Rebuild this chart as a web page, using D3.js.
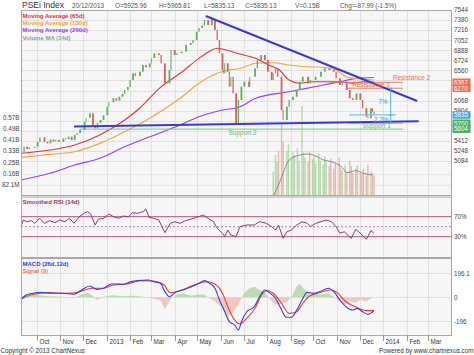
<!DOCTYPE html>
<html><head><meta charset="utf-8">
<script src="https://cdn.jsdelivr.net/npm/d3@7"></script>
<style>
html,body{margin:0;padding:0;background:#fff;}
svg{display:block;font-family:"Liberation Sans",Arial,sans-serif;}
</style></head><body>
<svg id="c" width="474" height="355"></svg>
<script>
// ---------- DATA ----------
const priceDates = ["2012-09-11","2012-09-14","2012-09-18","2012-09-21","2012-09-28","2012-10-02","2012-10-05","2012-10-11","2012-10-15","2012-10-19","2012-10-23","2012-10-26","2012-10-30","2012-11-05","2012-11-08","2012-11-12","2012-11-16","2012-11-20","2012-11-23","2012-11-27","2012-12-03","2012-12-05","2012-12-10","2012-12-14","2012-12-17","2012-12-20","2012-12-24","2012-12-28","2013-01-02","2013-01-04","2013-01-10","2013-01-14","2013-01-18","2013-01-22","2013-01-25","2013-01-29","2013-02-01","2013-02-05","2013-02-08","2013-02-14","2013-02-18","2013-02-22","2013-02-27","2013-03-01","2013-03-05","2013-03-11","2013-03-14","2013-03-19","2013-03-25","2013-03-27","2013-04-01","2013-04-04","2013-04-10","2013-04-16","2013-04-22","2013-04-25","2013-04-30","2013-05-03","2013-05-07","2013-05-10","2013-05-15","2013-05-20","2013-05-24","2013-05-27","2013-05-30","2013-06-03","2013-06-04","2013-06-06","2013-06-10","2013-06-12","2013-06-14","2013-06-17","2013-06-21","2013-06-24","2013-06-28","2013-07-02","2013-07-08","2013-07-09","2013-07-16","2013-07-19","2013-07-24","2013-07-29","2013-08-02","2013-08-07","2013-08-09","2013-08-12","2013-08-15","2013-08-20","2013-08-22","2013-08-27","2013-08-30","2013-09-04","2013-09-09","2013-09-13","2013-09-17","2013-09-24","2013-09-27","2013-10-04","2013-10-11","2013-10-16","2013-10-22","2013-10-28","2013-10-31","2013-11-05","2013-11-08","2013-11-14","2013-11-18","2013-11-22","2013-11-27","2013-12-02","2013-12-05","2013-12-10","2013-12-12","2013-12-16","2013-12-18","2013-12-20"];
const priceCloses = [5236,5317,5280,5307,5317,5395,5470,5399,5372,5438,5405,5426,5398,5454,5440,5480,5426,5508,5540,5589,5724,5790,5861,5671,5617,5705,5752,5830,5969,6040,6106,6068,6132,6180,6241,6290,6404,6513,6470,6539,6648,6610,6676,6760,6839,6811,6676,6350,6567,6892,6811,6840,6865,6974,7006,7055,7191,7251,7290,7381,7300,7397,7218,7055,6839,6567,6513,6676,6539,6295,6457,6187,5698,6078,6295,6376,6295,6457,6594,6729,6811,6729,6539,6404,6513,6594,6457,5915,5752,5969,6078,6132,6241,6376,6457,6350,6404,6457,6539,6594,6567,6539,6431,6322,6376,6241,6106,6078,6187,6078,5943,5806,5780,5943,5887,5835.13];

const ma65Dates = ["2012-09-10","2012-10-18","2012-11-20","2012-12-23","2013-01-25","2013-02-14","2013-03-12","2013-04-08","2013-05-03","2013-05-16","2013-05-27","2013-06-08","2013-06-26","2013-07-17","2013-08-03","2013-08-17","2013-08-30","2013-09-13","2013-10-01","2013-10-23","2013-11-05","2013-11-22","2013-12-05","2013-12-20"];
const ma65Values = [5210,5263,5345,5508,5752,5948,6273,6513,6757,6865,6920,6892,6827,6757,6648,6567,6404,6350,6376,6376,6376,6350,6376,6367];
const ma130Dates = ["2012-09-10","2012-10-18","2012-11-20","2012-12-23","2013-01-25","2013-02-27","2013-04-08","2013-05-03","2013-05-27","2013-06-12","2013-06-26","2013-07-17","2013-08-09","2013-08-30","2013-09-22","2013-10-14","2013-10-31","2013-11-13","2013-12-02","2013-12-20"];
const ma130Values = [5144,5193,5236,5372,5562,5780,6106,6350,6513,6567,6591,6676,6686,6648,6620,6611,6567,6457,6420,6404];
const ma260Dates = ["2012-09-10","2012-10-18","2012-11-20","2012-12-23","2013-01-25","2013-02-27","2013-04-08","2013-05-03","2013-05-30","2013-06-26","2013-07-17","2013-08-30","2013-09-22","2013-10-14","2013-11-05","2013-11-27","2013-12-20"];
const ma260Values = [4775,4884,5019,5128,5317,5480,5671,5806,5904,5969,6106,6213,6268,6322,6376,6431,6444];

const volDates = ["2013-08-09","2013-08-12","2013-08-14","2013-08-16","2013-08-20","2013-08-22","2013-08-27","2013-08-29","2013-09-02","2013-09-04","2013-09-06","2013-09-10","2013-09-12","2013-09-16","2013-09-18","2013-09-20","2013-09-24","2013-09-26","2013-09-30","2013-10-02","2013-10-04","2013-10-08","2013-10-10","2013-10-14","2013-10-16","2013-10-18","2013-10-22","2013-10-24","2013-10-28","2013-10-30","2013-11-04","2013-11-06","2013-11-08","2013-11-12","2013-11-14","2013-11-18","2013-11-20","2013-11-22","2013-11-26","2013-11-28","2013-12-02","2013-12-04","2013-12-06","2013-12-10","2013-12-12","2013-12-16","2013-12-18","2013-12-20"];
const volValues = [180,300,250,330,535,400,330,380,280,320,300,350,260,660,320,280,250,330,270,300,240,310,260,230,290,250,220,270,200,240,280,210,190,230,180,260,220,170,200,227,180,160,200,150,227,180,170,150];
const vmaDates = ["2013-08-09","2013-08-15","2013-08-22","2013-08-30","2013-09-13","2013-09-23","2013-10-01","2013-10-14","2013-10-25","2013-11-07","2013-11-15","2013-11-26","2013-12-06","2013-12-18"];
const vmaValues = [0,68,166,264,300,308,300,264,251,215,171,186,166,154];

const rsiDates = ["2012-09-10","2012-09-13","2012-09-17","2012-09-24","2012-09-28","2012-10-05","2012-10-11","2012-10-18","2012-10-25","2012-10-31","2012-11-07","2012-11-13","2012-11-19","2012-11-26","2012-12-03","2012-12-07","2012-12-11","2012-12-17","2012-12-21","2012-12-28","2013-01-04","2013-01-10","2013-01-17","2013-01-23","2013-01-30","2013-02-04","2013-02-11","2013-02-18","2013-02-22","2013-02-26","2013-03-04","2013-03-11","2013-03-15","2013-03-19","2013-03-26","2013-04-01","2013-04-08","2013-04-15","2013-04-22","2013-04-30","2013-05-09","2013-05-15","2013-05-22","2013-05-27","2013-06-03","2013-06-06","2013-06-10","2013-06-14","2013-06-21","2013-06-26","2013-07-05","2013-07-15","2013-07-22","2013-07-31","2013-08-07","2013-08-12","2013-08-16","2013-08-22","2013-08-27","2013-09-02","2013-09-09","2013-09-16","2013-09-23","2013-09-27","2013-10-04","2013-10-11","2013-10-18","2013-10-25","2013-10-31","2013-11-05","2013-11-11","2013-11-15","2013-11-20","2013-11-26","2013-12-03","2013-12-10","2013-12-16","2013-12-20"];
const rsiValues = [50,63.4,60,62,56.8,66.8,56.8,62,58,63.4,60,66.8,56.8,70,78,80,75.4,53.4,64.8,66.8,75.4,70,66.8,71.4,70,78,76.8,80,84.8,68.8,66.8,63.4,50,38,56.8,60,56.8,62,64.8,68.8,73.4,66.8,60,46.8,36.8,30,43.4,33.4,30,50,53.4,53.4,60,56.8,50,43.4,53.4,26.8,40,43.4,53.4,60,56.8,50,56.8,60,63.4,60,50,36.8,40,33.4,26.8,44.8,35.4,24.8,42,36.8];

const macdDates = ["2012-09-10","2012-09-17","2012-09-26","2012-10-05","2012-10-11","2012-10-22","2012-11-05","2012-11-19","2012-11-29","2012-12-10","2012-12-19","2012-12-28","2013-01-07","2013-01-15","2013-01-23","2013-02-01","2013-02-11","2013-02-25","2013-03-04","2013-03-13","2013-03-19","2013-03-25","2013-04-01","2013-04-08","2013-04-15","2013-04-23","2013-05-03","2013-05-10","2013-05-16","2013-05-24","2013-05-30","2013-06-06","2013-06-12","2013-06-19","2013-06-24","2013-06-28","2013-07-05","2013-07-15","2013-07-22","2013-07-29","2013-08-05","2013-08-12","2013-08-19","2013-08-26","2013-09-02","2013-09-09","2013-09-16","2013-09-23","2013-10-01","2013-10-09","2013-10-21","2013-10-28","2013-11-05","2013-11-13","2013-11-22","2013-11-28","2013-12-05","2013-12-12","2013-12-20"];
const macdValues = [-16,19,33,41,38,33,33,25,60,92,65,74,109,109,106,127,136,141,127,114,46,5,38,54,65,87,114,136,119,74,-22,-118,-199,-226,-267,-199,-118,-77,5,60,33,-8,-90,-163,-163,-104,-22,41,33,46,74,46,-22,-77,-104,-90,-118,-139,-109];
const signalDates = ["2012-09-10","2012-09-26","2012-10-18","2012-11-09","2012-11-27","2012-12-12","2012-12-28","2013-01-10","2013-01-28","2013-02-14","2013-03-04","2013-03-18","2013-03-26","2013-04-08","2013-04-23","2013-05-13","2013-05-24","2013-06-03","2013-06-10","2013-06-19","2013-06-26","2013-07-05","2013-07-16","2013-07-26","2013-08-02","2013-08-09","2013-08-20","2013-08-30","2013-09-09","2013-09-17","2013-09-26","2013-10-09","2013-10-23","2013-10-31","2013-11-13","2013-11-27","2013-12-10","2013-12-20"];
const signalValues = [-16,25,38,33,46,74,74,100,109,136,133,100,38,54,92,127,109,33,-77,-185,-218,-172,-90,33,54,33,-49,-131,-118,-49,11,38,60,46,-36,-82,-109,-109];
const histDates = ["2012-09-10","2012-09-17","2012-09-26","2012-10-05","2012-10-18","2012-11-05","2012-11-19","2012-11-29","2012-12-07","2012-12-14","2012-12-19","2012-12-28","2013-01-08","2013-01-22","2013-02-05","2013-02-20","2013-03-04","2013-03-13","2013-03-19","2013-03-26","2013-04-03","2013-04-12","2013-04-23","2013-05-03","2013-05-10","2013-05-17","2013-05-24","2013-06-03","2013-06-10","2013-06-17","2013-06-24","2013-07-01","2013-07-08","2013-07-15","2013-07-22","2013-07-29","2013-08-05","2013-08-12","2013-08-19","2013-08-27","2013-09-03","2013-09-09","2013-09-13","2013-09-20","2013-09-27","2013-10-04","2013-10-11","2013-10-21","2013-10-28","2013-11-05","2013-11-11","2013-11-18","2013-11-25","2013-12-03","2013-12-10","2013-12-16","2013-12-20"];
const histValues = [0,25,33,16,8,4,-8,25,38,10,-22,4,16,8,12,4,-12,-25,-98,-20,20,33,12,25,20,-8,-33,-90,-155,-120,-60,30,70,87,60,40,-20,-63,-50,-40,10,90,109,60,25,30,20,35,5,-40,-63,-30,-45,-20,-35,-10,0];

const priceTicks = [5084,5248,5412,5576,5740,5904,6068,6232,6396,6560,6724,6888,7052,7216,7380,7544];
const volTicks = [82.1,164.2,246.3,328.4,410.5,492.6,574.7];
const volTickLabels = ["82.1M","0.16B","0.25B","0.33B","0.41B","0.49B","0.57B"];
const rsiTicks = [70,30];
const rsiTickLabels = ["70%","30%"];
const macdTicks = [196.1,0,-196];
const macdTickLabels = ["196.1","0","-196"];
const monthTicks = ["2012-10-01","2012-11-01","2012-12-01","2013-01-01","2013-02-01","2013-03-01","2013-04-01","2013-05-01","2013-06-01","2013-07-01","2013-08-01","2013-09-01","2013-10-01","2013-11-01","2013-12-01","2014-01-01","2014-02-01","2014-03-01"];
const monthLabels = ["Oct","Nov","Dec","2013","Feb","Mar","Apr","May","Jun","Jul","Aug","Sep","Oct","Nov","Dec","2014","Feb","Mar"];

const headerItems = ["20/12/2013","O=5925.96","H=5965.81","L=5835.13","C=5835.13","V=0.15B","Chg=-87.99 (-1.5%)"];
const legendMain = ["Moving Average (65d)","Moving Average (130d)","Moving Average (260d)","Volume MA (14d)"];

// drawn annotations
const trendDown = [["2013-05-12",7446],["2014-02-15",6062]];
const trendSupport = [["2012-11-19",5646],["2014-02-17",5731]];
const levelNames = ["Resistance 2","Resistance 1","Support 1","Support 2"];
const levelValues = [6367,6270,5700,5604];
const levelStart = ["2013-10-23","2013-11-13","2013-11-16","2012-11-26"];
const levelEnd = ["2014-01-27","2014-01-27","2014-01-27","2014-01-27"];
const currentPrice = 5835.13;
const currentStart = "2013-11-17", currentEnd = "2014-01-18";
const measureDate = "2014-01-11";
const measureLabels = ["7%","2.2%"];
const boxValues = [6367,6270,5835,5700,5604];

// ---------- DRAW ----------
const P = d3.timeParse("%Y-%m-%d");
const svg = d3.select("#c");
const L = 21, R = 452;
const x = d3.scaleTime().domain([new Date(2012,8,10), new Date(2014,3,2)]).range([L,R]);
const yP = d3.scaleLinear().domain([4515,7544]).range([196,10]);
const yV = d3.scaleLinear().domain([0,1363]).range([196,10]);
const yR = d3.scaleLinear().domain([-12.6,109.4]).range([258,197]);
const yM = d3.scaleLinear().domain([-316,321]).range([336,258]);

const panels = [[10,196],[196.5,258],[258,336]];
panels.forEach(([t,b])=>{
  svg.append("rect").attr("x",L).attr("y",t).attr("width",R-L).attr("height",b-t)
    .attr("fill","#f6f6f6");
});
const mt = monthTicks.map(P);
panels.forEach(([t,b])=>{
  svg.append("g").selectAll("line").data(mt).join("line")
    .attr("x1",d=>Math.round(x(d))+0.5).attr("x2",d=>Math.round(x(d))+0.5)
    .attr("y1",t).attr("y2",b).attr("stroke","#e1e1e1").attr("stroke-width",1);
});
svg.append("g").selectAll("line").data(priceTicks).join("line")
  .attr("x1",L).attr("x2",R).attr("y1",d=>Math.round(yP(d))+0.5).attr("y2",d=>Math.round(yP(d))+0.5)
  .attr("stroke","#e1e1e1");
svg.append("g").selectAll("line").data(volTicks.slice(0,2)).join("line")
  .attr("x1",L).attr("x2",R).attr("y1",d=>Math.round(yV(d))+0.5).attr("y2",d=>Math.round(yV(d))+0.5)
  .attr("stroke","#e6e6e6");
svg.append("g").selectAll("line").data(macdTicks).join("line")
  .attr("x1",L).attr("x2",R).attr("y1",d=>Math.round(yM(d))+0.5).attr("y2",d=>Math.round(yM(d))+0.5)
  .attr("stroke","#e1e1e1");

const candles = priceDates.map((d,i)=>({date:P(d), close:priceCloses[i], open:i?priceCloses[i-1]:priceCloses[i]}));
function dirAt(date){
  let c = candles[0];
  for (const k of candles){ if (k.date<=date) c=k; }
  return c.close>=c.open;
}
const vols = volDates.map((d,i)=>({date:P(d), v:volValues[i]}));
svg.append("g").selectAll("rect").data(vols).join("rect")
  .attr("x",d=>x(d.date)-0.7).attr("width",1.4)
  .attr("y",d=>yV(d.v)).attr("height",d=>196-yV(d.v))
  .attr("fill",d=>dirAt(d.date)?"#b4d8ac":"#e6b9b0");
const lineG = (xs,ys,yv)=>d3.line().x((d,i)=>x(P(xs[i]))).y((d,i)=>yv(ys[i])).curve(d3.curveMonotoneX)(xs);
svg.append("path").attr("d",lineG(vmaDates,vmaValues,yV)).attr("fill","none").attr("stroke","#8a8a8a").attr("stroke-width",1);

[[ma260Dates,ma260Values,"#9a3ef0"],[ma130Dates,ma130Values,"#f2a53c"],[ma65Dates,ma65Values,"#e0343a"]].forEach(([ds,vs,c])=>{
  svg.append("path").attr("d",lineG(ds,vs,yP)).attr("fill","none").attr("stroke",c).attr("stroke-width",1.1);
});

levelValues.forEach((v,i)=>{
  const col = i<2 ? "#f07a5c" : "#7cc48a";
  svg.append("line").attr("x1",x(P(levelStart[i]))).attr("x2",x(P(levelEnd[i])))
    .attr("y1",yP(v)).attr("y2",yP(v)).attr("stroke",col).attr("stroke-width",1);
});
// candles: thin bodies plus a 1px wick line joining to previous close
const cw = (d,i)=>i?Math.max(1,Math.min(1.8,x(d.date)-x(candles[i-1].date)-1)):1.5;
svg.append("g").selectAll("rect").data(candles).join("rect")
  .attr("x",(d,i)=>x(d.date)-cw(d,i)/2).attr("width",cw)
  .attr("y",d=>Math.min(yP(d.open),yP(d.close)))
  .attr("height",d=>Math.max(1,Math.abs(yP(d.open)-yP(d.close))))
  .attr("fill",d=>d.close>=d.open?"#5fae62":"#d2625f");

[trendDown,trendSupport].forEach(t=>{
  svg.append("line").attr("x1",x(P(t[0][0]))).attr("y1",yP(t[0][1]))
    .attr("x2",x(P(t[1][0]))).attr("y2",yP(t[1][1]))
    .attr("stroke","#3a3ad0").attr("stroke-width",2);
});
svg.append("line").attr("x1",x(P(currentStart))).attr("x2",x(P(currentEnd)))
  .attr("y1",yP(currentPrice)).attr("y2",yP(currentPrice)).attr("stroke","#7cc4e8").attr("stroke-width",1.2);
const mx = x(P(measureDate));
svg.append("line").attr("x1",mx).attr("x2",mx).attr("y1",yP(levelValues[1])).attr("y2",yP(levelValues[2]))
  .attr("stroke","#5aaee0").attr("stroke-width",1);
[levelValues[1],currentPrice,levelValues[2]].forEach(v=>{
  svg.append("line").attr("x1",mx-2).attr("x2",mx+2).attr("y1",yP(v)).attr("y2",yP(v)).attr("stroke","#5aaee0");
});
const txt = (s,xx,yy,opt={})=>svg.append("text").text(s).attr("x",xx).attr("y",yy)
  .attr("font-size",opt.size||6.5).attr("fill",opt.fill||"#333").attr("text-anchor",opt.anchor||"start")
  .attr("font-weight",opt.weight||"normal");
txt(measureLabels[0],mx-3,yP((levelValues[1]+currentPrice)/2)+2,{anchor:"end",fill:"#4a9ad8"});
txt(measureLabels[1],mx-2,yP((currentPrice+levelValues[2])/2)+2.5,{anchor:"end",fill:"#4a9ad8"});
txt(levelNames[0],x(P(levelEnd[0]))-10,yP(levelValues[0])-2.5,{fill:"#f07059"});
txt(levelNames[1],x(P(levelEnd[1]))-13,yP(levelValues[1])-0.8,{fill:"#e8604c",anchor:"end"});
txt(levelNames[2],x(P(levelEnd[2]))-12,yP(levelValues[2])+5,{fill:"#6dbb7a",anchor:"end"});
txt(levelNames[3],x(P("2013-06-11")),yP(levelValues[3])+5.5,{fill:"#6dbb7a"});

// RSI
rsiTicks.forEach(v=>{
  svg.append("line").attr("x1",L).attr("x2",R).attr("y1",yR(v)).attr("y2",yR(v)).attr("stroke","#b0507f").attr("stroke-width",1);
});
svg.append("line").attr("x1",L).attr("x2",R).attr("y1",yR(50)).attr("y2",yR(50))
  .attr("stroke","#c07aa0").attr("stroke-dasharray","2,2");
svg.append("path").attr("d",d3.line().x((d,i)=>x(P(rsiDates[i]))).y((d,i)=>yR(rsiValues[i]))(rsiDates))
  .attr("fill","none").attr("stroke","#8e3b6b").attr("stroke-width",1);

// MACD
const defs = svg.append("defs");
defs.append("clipPath").attr("id","pos").append("rect").attr("x",L).attr("y",258).attr("width",R-L).attr("height",yM(0)-258);
defs.append("clipPath").attr("id","neg").append("rect").attr("x",L).attr("y",yM(0)).attr("width",R-L).attr("height",336-yM(0));
const hArea = d3.area().x((d,i)=>x(P(histDates[i]))).y0(yM(0)).y1((d,i)=>yM(histValues[i]));
svg.append("path").attr("d",hArea(histDates)).attr("fill","#bcdcb2").attr("clip-path","url(#pos)");
svg.append("path").attr("d",hArea(histDates)).attr("fill","#efc8bf").attr("clip-path","url(#neg)");
svg.append("path").attr("d",d3.line().x((d,i)=>x(P(signalDates[i]))).y((d,i)=>yM(signalValues[i])).curve(d3.curveMonotoneX)(signalDates))
  .attr("fill","none").attr("stroke","#ee3b30").attr("stroke-width",1.1);
svg.append("path").attr("d",d3.line().x((d,i)=>x(P(macdDates[i]))).y((d,i)=>yM(macdValues[i])).curve(d3.curveMonotoneX)(macdDates))
  .attr("fill","none").attr("stroke","#3340e0").attr("stroke-width",1.1);

panels.forEach(([t,b])=>{
  svg.append("rect").attr("x",L+0.5).attr("y",t+0.5).attr("width",R-L-1).attr("height",b-t-1)
    .attr("fill","none").attr("stroke","#a8a8a8");
});

// right price labels (those fully under a value box are hidden, as in the reference)
const boxCols = ["#f26a4f","#f26a4f","#46a7e0","#4cae5c","#4cae5c"];
priceTicks.filter(v=>boxValues.every(b=>Math.abs(yP(b)-yP(v))>=4))
  .forEach(v=>txt(String(v),454,yP(v)+2.3,{size:6.3,fill:"#444"}));
boxValues.forEach((v,i)=>{
  svg.append("rect").attr("x",452.5).attr("y",yP(v)-3.8).attr("width",18).attr("height",7.6).attr("fill",boxCols[i]);
  txt(String(v),454,yP(v)+2.3,{size:6.3,fill:"#fff"});
});
volTicks.forEach((v,i)=>txt(volTickLabels[i],19.5,yV(v)+2.3,{size:6.3,fill:"#444",anchor:"end"}));
rsiTicks.forEach((v,i)=>txt(rsiTickLabels[i],454,yR(v)+2.3,{size:6.3,fill:"#444"}));
macdTicks.forEach((v,i)=>txt(macdTickLabels[i],454,yM(v)+2.3,{size:6.3,fill:"#444"}));

mt.forEach((d,i)=>{
  const xx = Math.round(x(d))+0.5;
  svg.append("line").attr("x1",xx).attr("x2",xx).attr("y1",336).attr("y2",341).attr("stroke","#999");
  txt(monthLabels[i],xx+2,344,{size:6.3,fill:"#333"});
});

txt("PSEi Index",22,8.3,{size:8.5,fill:"#333"});
const hx = [72,115,159,204,245,295,340];
headerItems.forEach((s,i)=>txt(s,hx[i],8,{size:6.4,fill:"#555"}));
const legCols = ["#e0343a","#f2a53c","#9a3ef0","#999"];
legendMain.forEach((s,i)=>txt(s,22.5,18.2+i*7.1,{size:6,fill:legCols[i],weight:"bold"}));
txt("Smoothed RSI (14d)",22.5,203.8,{size:6,fill:"#8e3b6b",weight:"bold"});
txt("MACD (26d,12d)",22.5,266,{size:6,fill:"#3340e0",weight:"bold"});
txt("Signal (9)",22.5,272.5,{size:6,fill:"#ee3b30"});
txt("Copyright \u00a9 2013 ChartNexus",0.5,353,{size:6.3,fill:"#333"});
txt("Powered by www.chartnexus.com",473.5,353,{size:6.3,fill:"#333",anchor:"end"});
</script></body></html>
